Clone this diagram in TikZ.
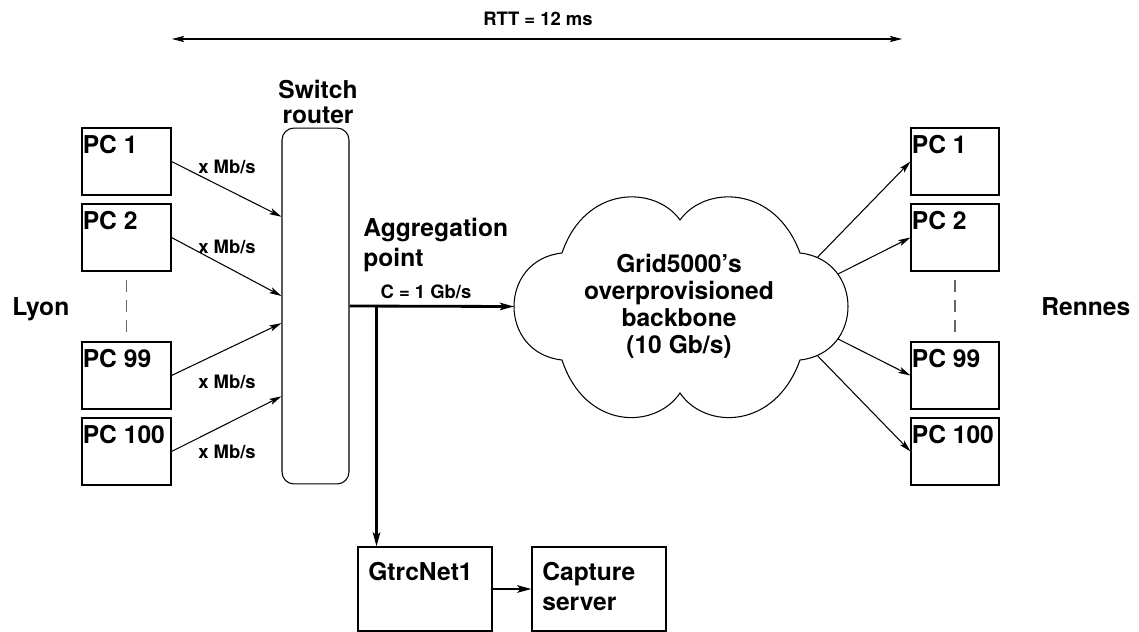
\documentclass[tikz,border=0pt]{standalone}
\usepackage{fontspec}
\setmainfont{TeX Gyre Heros}
\usetikzlibrary{positioning}
\usetikzlibrary{calc,arrows.meta}

\tikzset{
	pcbox/.style={draw=black,line width=0.6pt,minimum width=1.78cm,minimum height=1.34cm,inner sep=0pt},
	srvbox/.style={draw=black,line width=0.6pt,minimum width=2.68cm,minimum height=1.68cm,inner sep=0pt},
	bigtxt/.style={font=\fontsize{14}{15.3}\selectfont\bfseries,inner sep=0pt},
	smalltxt/.style={font=\fontsize{10.5}{12}\selectfont\bfseries,inner sep=0pt},
	thinarrow/.style={line width=0.6pt,-{Stealth[length=7pt,width=3.6pt,inset=1.6pt]}},
	thickarrow/.style={line width=1.6pt,-{Stealth[length=8pt,width=4.2pt,inset=1.8pt]}},
	dotline/.style={line width=0.6pt,black!60,dash pattern=on 6.8pt off 4.5pt,shorten <=5pt,shorten >=5pt}
}

\begin{document}
\begin{tikzpicture}[x=0.02cm,y=-0.02cm]
		\useasboundingbox (0,0) rectangle (1139,632);
		
		\coordinate(rttl) at (172,39);
		\coordinate(rttr) at (902,39);
		\coordinate(ca) at (562,253);
		\coordinate(cb) at (680,220);
		\coordinate(cc) at (800,253);
		\coordinate(cd) at (800,360);
		\coordinate(ce) at (680,393);
		\coordinate(cf) at (562,360);
		
		% Lyon side
		\node[pcbox] (lpc1) at (126.5,161.5) {};
		\node[pcbox] (lpc2) at (126.5,237.5) {};
		\node[pcbox] (lpc99) at (126.5,375.5) {};
		\node[pcbox] (lpc100) at (126.5,451.5) {};
		\node[bigtxt,anchor=north west] (lpc1t) at ($(lpc1.north west)+(1,7)$) {PC 1};
		\node[bigtxt,anchor=north west] (lpc2t) at ($(lpc2.north west)+(1,7)$) {PC 2};
		\node[bigtxt,anchor=north west] (lpc99t) at ($(lpc99.north west)+(1,7)$) {PC 99};
		\node[bigtxt,anchor=north west] (lpc100t) at ($(lpc100.north west)+(1,7)$) {PC 100};
		\draw[dotline] (lpc2.south) -- (lpc99.north);
		\node[bigtxt,anchor=base west] (lyon) at (12,315) {Lyon};
		
		\node[draw=black,line width=0.6pt,rounded corners=0.24cm,minimum width=1.34cm,minimum height=7.12cm,inner sep=0pt] (sw) at (315.5,306) {};
		\node[bigtxt,align=center,anchor=north,font=\fontsize{14}{14.3}\selectfont\bfseries] (swt) at (318,80) {Switch\\router};
		
		\draw[thinarrow] (lpc1.east) -- ($(sw.north west)!0.25!(sw.south west)$);
		\draw[thinarrow] (lpc2.east) -- ($(sw.north west)!0.472!(sw.south west)$);
		\draw[thinarrow] (lpc99.east) -- ($(sw.north west)!0.548!(sw.south west)$);
		\draw[thinarrow] (lpc100.east) -- ($(sw.north west)!0.753!(sw.south west)$);
		\node[smalltxt] (rate1) at (227,167) {x Mb/s};
		\node[smalltxt] (rate2) at (227,247) {x Mb/s};
		\node[smalltxt] (rate99) at (227,382) {x Mb/s};
		\node[smalltxt] (rate100) at (227,452) {x Mb/s};
		
		% Backbone cloud
		\draw[line width=0.6pt] (ca) .. controls (585,185) and (655,185) .. (cb)
			.. controls (705,185) and (775,185) .. (cc)
			.. controls (864,260) and (864,353) .. (cd) coordinate[pos=0.1] (cr1) coordinate[pos=0.27] (cr2) coordinate[pos=0.73] (cr3) coordinate[pos=0.9] (cr4)
			.. controls (775,430) and (705,430) .. (ce)
			.. controls (655,430) and (585,430) .. (cf)
			.. controls (498,353) and (498,260) .. (ca) coordinate[pos=0.5] (cl);
		\node[bigtxt,align=center,anchor=north] (cloud) at (679,254) {Grid5000's\\overprovisioned\\backbone\\(10 Gb/s)};
		
		\node[bigtxt,align=left,anchor=north west,font=\fontsize{14}{17}\selectfont\bfseries] (aggt) at (363,218) {Aggregation\\point};
		\node[smalltxt] (cap1) at (426,291.5) {C = 1 Gb/s};
		\draw[thickarrow] (sw.east) -- (cl);
		
		% Rennes side
		\node[pcbox,minimum width=1.76cm] (rpc1) at (955,161.5) {};
		\node[pcbox,minimum width=1.76cm] (rpc2) at (955,237.5) {};
		\node[pcbox,minimum width=1.76cm] (rpc99) at (955,375.5) {};
		\node[pcbox,minimum width=1.76cm] (rpc100) at (955,451.5) {};
		\node[bigtxt,anchor=north west] (rpc1t) at ($(rpc1.north west)+(1,7)$) {PC 1};
		\node[bigtxt,anchor=north west] (rpc2t) at ($(rpc2.north west)+(1,7)$) {PC 2};
		\node[bigtxt,anchor=north west] (rpc99t) at ($(rpc99.north west)+(1,7)$) {PC 99};
		\node[bigtxt,anchor=north west] (rpc100t) at ($(rpc100.north west)+(1,7)$) {PC 100};
		\draw[dotline] (rpc2.south) -- (rpc99.north);
		\node[bigtxt,anchor=base west] (rennes) at (1041,315) {Rennes};
		
		\draw[thinarrow] (cr1) -- (rpc1.west);
		\draw[thinarrow] (cr2) -- (rpc2.west);
		\draw[thinarrow] (cr3) -- (rpc99.west);
		\draw[thinarrow] (cr4) -- (rpc100.west);
		
		% Capture chain
		\node[srvbox] (gtrc) at (425,589) {};
		\node[srvbox] (capsrv) at (599,589) {};
		\node[bigtxt,anchor=north west] (gtrct) at (368,562) {GtrcNet1};
		\node[bigtxt,align=left,anchor=north west,font=\fontsize{14}{17}\selectfont\bfseries] (capt) at (542,562) {Capture\\server};
		\coordinate(br) at ($(sw.east)+(27,0)$);
		\draw[thickarrow] (br) -- (br |- gtrc.north);
		\draw[thickarrow] (gtrc.east) -- (capsrv.west);
		
		% Round trip time
		\draw[line width=0.6pt,{Stealth[length=7pt,width=3.6pt,inset=1.6pt]}-{Stealth[length=7pt,width=3.6pt,inset=1.6pt]}] (rttl) -- (rttr);
		\node[smalltxt,anchor=base] (rtt) at (538,26) {RTT = 12 ms};
	\end{tikzpicture}
\end{document}
